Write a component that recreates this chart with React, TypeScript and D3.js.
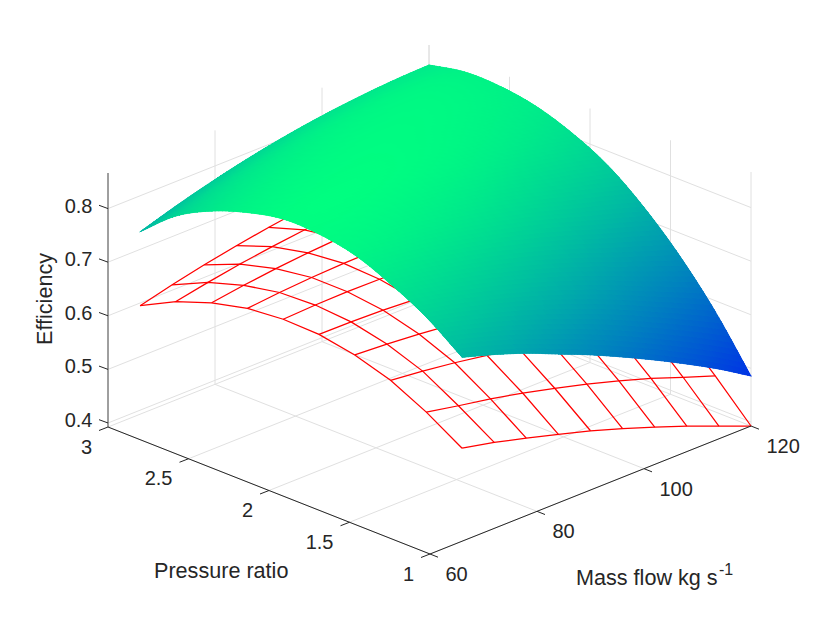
import React, { useEffect, useRef } from "react";
import * as d3 from "d3";

const massFlow = [66, 72, 78, 84, 90, 96, 102, 108, 114, 120];
const pressureRatio = [3, 2.7778, 2.5556, 2.3333, 2.1111, 1.8889, 1.6667, 1.4444, 1.2222, 1];

const xTicks = [60, 80, 100, 120];
const yTicks = [1, 1.5, 2, 2.5, 3];
const zTicks = [0.4, 0.5, 0.6, 0.7, 0.8];

const zMin = 0.3925;
const zMax = 0.8664;

// lower surface (wire mesh), one row per pressure ratio
const meshZ = [
  [0.595, 0.61, 0.6234, 0.6352, 0.6454, 0.654, 0.661, 0.6664, 0.6702, 0.6724],
  [0.629, 0.6409, 0.6512, 0.6599, 0.667, 0.6725, 0.6764, 0.6787, 0.6794, 0.6785],
  [0.653, 0.6618, 0.669, 0.6746, 0.6786, 0.681, 0.6818, 0.681, 0.6786, 0.6746],
  [0.669, 0.6747, 0.6788, 0.6813, 0.6822, 0.6815, 0.6792, 0.6753, 0.6698, 0.6627],
  [0.675, 0.6776, 0.6786, 0.678, 0.6758, 0.672, 0.6666, 0.6596, 0.651, 0.6408],
  [0.673, 0.6725, 0.6704, 0.6667, 0.6614, 0.6545, 0.646, 0.6359, 0.6242, 0.6109],
  [0.661, 0.6574, 0.6522, 0.6454, 0.637, 0.627, 0.6154, 0.6022, 0.5874, 0.571],
  [0.64, 0.6333, 0.625, 0.6151, 0.6036, 0.5905, 0.5758, 0.5595, 0.5416, 0.5221],
  [0.607, 0.595, 0.584, 0.571, 0.556, 0.54, 0.522, 0.503, 0.481, 0.4595],
  [0.566, 0.553, 0.537, 0.52, 0.503, 0.483, 0.462, 0.44, 0.416, 0.3925],
];

// upper surface (shaded)
const surfaceZ = [
  [0.733, 0.7522, 0.7694, 0.7845, 0.7974, 0.808, 0.8164, 0.8227, 0.827, 0.8291],
  [0.7886, 0.8036, 0.8164, 0.8272, 0.8358, 0.8424, 0.8468, 0.8492, 0.8478, 0.8423],
  [0.8242, 0.8349, 0.8435, 0.85, 0.8544, 0.8567, 0.8569, 0.855, 0.8495, 0.8416],
  [0.8477, 0.8542, 0.8585, 0.8608, 0.8609, 0.859, 0.8549, 0.8488, 0.8405, 0.8306],
  [0.8619, 0.8641, 0.8642, 0.8622, 0.8581, 0.8519, 0.8436, 0.8332, 0.8215, 0.8074],
  [0.8602, 0.8582, 0.854, 0.8478, 0.8394, 0.829, 0.8164, 0.8018, 0.7885, 0.7733],
  [0.8475, 0.8412, 0.8328, 0.8223, 0.8097, 0.795, 0.7782, 0.7593, 0.7415, 0.7222],
  [0.8197, 0.8092, 0.7965, 0.7818, 0.7649, 0.746, 0.7249, 0.7018, 0.68, 0.658],
  [0.7839, 0.7691, 0.7522, 0.7332, 0.7121, 0.6889, 0.6636, 0.6362, 0.6085, 0.5798],
  [0.7356, 0.7169, 0.6953, 0.6701, 0.6447, 0.6168, 0.5873, 0.5559, 0.5227, 0.4858],
];

const GRID = "#e0e0e0";
const AXIS = "#262626";
const SHADE_STEPS = 10;

// axis fractions, the view is an orthographic 3d projection
const xFrac = d3.scaleLinear().domain([60, 120]).range([0, 1]);
const yFrac = d3.scaleLinear().domain([3, 1]).range([0, 1]);
const zPx = d3.scaleLinear().domain([zMin, zMax]).range([0, 254]);

function project(x: number, y: number, z: number): [number, number] {
  const a = xFrac(x);
  const b = yFrac(y);
  return [108 + a * 321 + b * 322, 427 - a * 128 + b * 127 - zPx(z)];
}

// same as matlab's winter colormap
const winter = d3.scaleLinear<string>().domain([zMin, zMax]).range(["#0000ff", "#00ff80"]);

function catmull(p0: number, p1: number, p2: number, p3: number, t: number) {
  return (
    0.5 *
    (2 * p1 + (p2 - p0) * t + (2 * p0 - 5 * p1 + 4 * p2 - p3) * t * t + (3 * p1 - p0 - 3 * p2 + p3) * t * t * t)
  );
}

function pick(list: number[], k: number) {
  if (k < 0) return 2 * list[0] - list[1];
  if (k >= list.length) return 2 * list[list.length - 1] - list[list.length - 2];
  return list[k];
}

// smooth shading between table nodes, u along mass flow, v along pressure ratio
function shadeAt(u: number, v: number) {
  const i = Math.min(Math.floor(u), massFlow.length - 2);
  const j = Math.min(Math.floor(v), pressureRatio.length - 2);
  const rows: number[] = [];
  for (let r = j - 1; r <= j + 2; r++) {
    const row = r < 0 ? surfaceZ[0].map((d, k) => 2 * d - surfaceZ[1][k]) : r > 9 ? surfaceZ[9].map((d, k) => 2 * d - surfaceZ[8][k]) : surfaceZ[r];
    rows.push(catmull(pick(row, i - 1), pick(row, i), pick(row, i + 1), pick(row, i + 2), u - i));
  }
  return catmull(rows[0], rows[1], rows[2], rows[3], v - j);
}

export default function App() {
  const canvas = useRef<SVGSVGElement>(null);

  useEffect(() => {
    const svg = d3.select(canvas.current);
    svg.selectAll("*").remove();
    const line = d3.line<[number, number]>();

    const drawLine = (pts: [number, number][], stroke: string, width: number) =>
      svg.append("path").attr("d", line(pts)).attr("fill", "none").attr("stroke", stroke).attr("stroke-width", width);

    // grid on the walls and the floor
    xTicks.forEach((x) => {
      drawLine([project(x, 1, zMin), project(x, 3, zMin)], GRID, 1);
      drawLine([project(x, 3, zMin), project(x, 3, zMax)], GRID, 1);
    });
    yTicks.forEach((y) => {
      drawLine([project(60, y, zMin), project(120, y, zMin)], GRID, 1);
      drawLine([project(120, y, zMin), project(120, y, zMax)], GRID, 1);
    });
    zTicks.forEach((z) => {
      drawLine([project(60, 3, z), project(120, 3, z), project(120, 1, z)], GRID, 1);
    });

    // wire mesh
    meshZ.forEach((row, j) => {
      drawLine(row.map((z, i) => project(massFlow[i], pressureRatio[j], z)), "#ff0000", 1.25);
    });
    massFlow.forEach((x, i) => {
      drawLine(meshZ.map((row, j) => project(x, pressureRatio[j], row[i])), "#ff0000", 1.25);
    });

    // shaded surface, painted back to front
    const n = 9 * SHADE_STEPS;
    const g = svg.append("g").attr("shape-rendering", "crispEdges");
    const at = (a: number, b: number) => {
      const u = a / SHADE_STEPS;
      const v = b / SHADE_STEPS;
      const z = shadeAt(u, v);
      const x = massFlow[0] + u * (massFlow[1] - massFlow[0]);
      const y = pressureRatio[0] + (v * (pressureRatio[9] - pressureRatio[0])) / 9;
      return { p: project(x, y, z), z };
    };
    for (let a = n - 1; a >= 0; a--) {
      for (let b = 0; b < n; b++) {
        const c = [at(a, b), at(a + 1, b), at(a + 1, b + 1), at(a, b + 1)];
        const col = winter(d3.mean(c, (d) => d.z) as number);
        g.append("polygon")
          .attr("points", c.map((d) => d.p.join(",")).join(" "))
          .attr("fill", col)
          .attr("stroke", col)
          .attr("stroke-width", 0.6);
      }
    }
    // soft rim so the outline isn't stair-stepped
    for (let k = 0; k < n; k++) {
      [
        [at(k, 0), at(k + 1, 0)],
        [at(k, n), at(k + 1, n)],
        [at(0, k), at(0, k + 1)],
        [at(n, k), at(n, k + 1)],
      ].forEach(([s, e]) => {
        drawLine([s.p, e.p], winter((s.z + e.z) / 2), 0.9).attr("stroke-linecap", "round");
      });
    }

    // axes
    drawLine([project(60, 3, zMin), project(60, 3, zMax)], AXIS, 1).attr("opacity", 0.8);
    drawLine([project(60, 3, zMin), project(60, 1, zMin)], AXIS, 1);
    drawLine([project(60, 1, zMin), project(120, 1, zMin)], AXIS, 1);

    const text = (x: number, y: number, s: string, anchor: string, size = 20) =>
      svg
        .append("text")
        .attr("x", x)
        .attr("y", y)
        .attr("text-anchor", anchor)
        .attr("font-family", "'Liberation Sans', Arial, sans-serif")
        .attr("font-size", size)
        .attr("fill", AXIS)
        .text(s);

    zTicks.forEach((z) => {
      const p = project(60, 3, z);
      drawLine([p, [p[0] - 9, p[1] - 3.3]], AXIS, 1);
      text(p[0] - 15.5, p[1] + 4, String(z), "end");
    });
    yTicks.forEach((y) => {
      const p = project(60, y, zMin);
      drawLine([p, [p[0] - 9, p[1] + 3.5]], AXIS, 1);
      text(p[0] - 16, p[1] + 26.5, String(y), "end");
    });
    xTicks.forEach((x) => {
      const p = project(x, 1, zMin);
      drawLine([p, [p[0] + 8, p[1] + 3.2]], AXIS, 1);
      text(p[0] + 15.5, p[1] + 27, String(x), "start");
    });

    text(154, 577.5, "Pressure ratio", "start", 21.6);
    text(576, 584.5, "Mass flow kg s", "start", 21.6);
    text(719, 574.5, "-1", "start", 16);
    text(0, 0, "Efficiency", "middle", 21.6).attr("transform", "translate(52,299) rotate(-90)");
  }, []);

  return (
    <svg
      ref={canvas}
      width={830}
      height={623}
      viewBox="0 0 830 623"
      style={{ position: "absolute", left: 0, top: 0, display: "block" }}
    ></svg>
  );
}
